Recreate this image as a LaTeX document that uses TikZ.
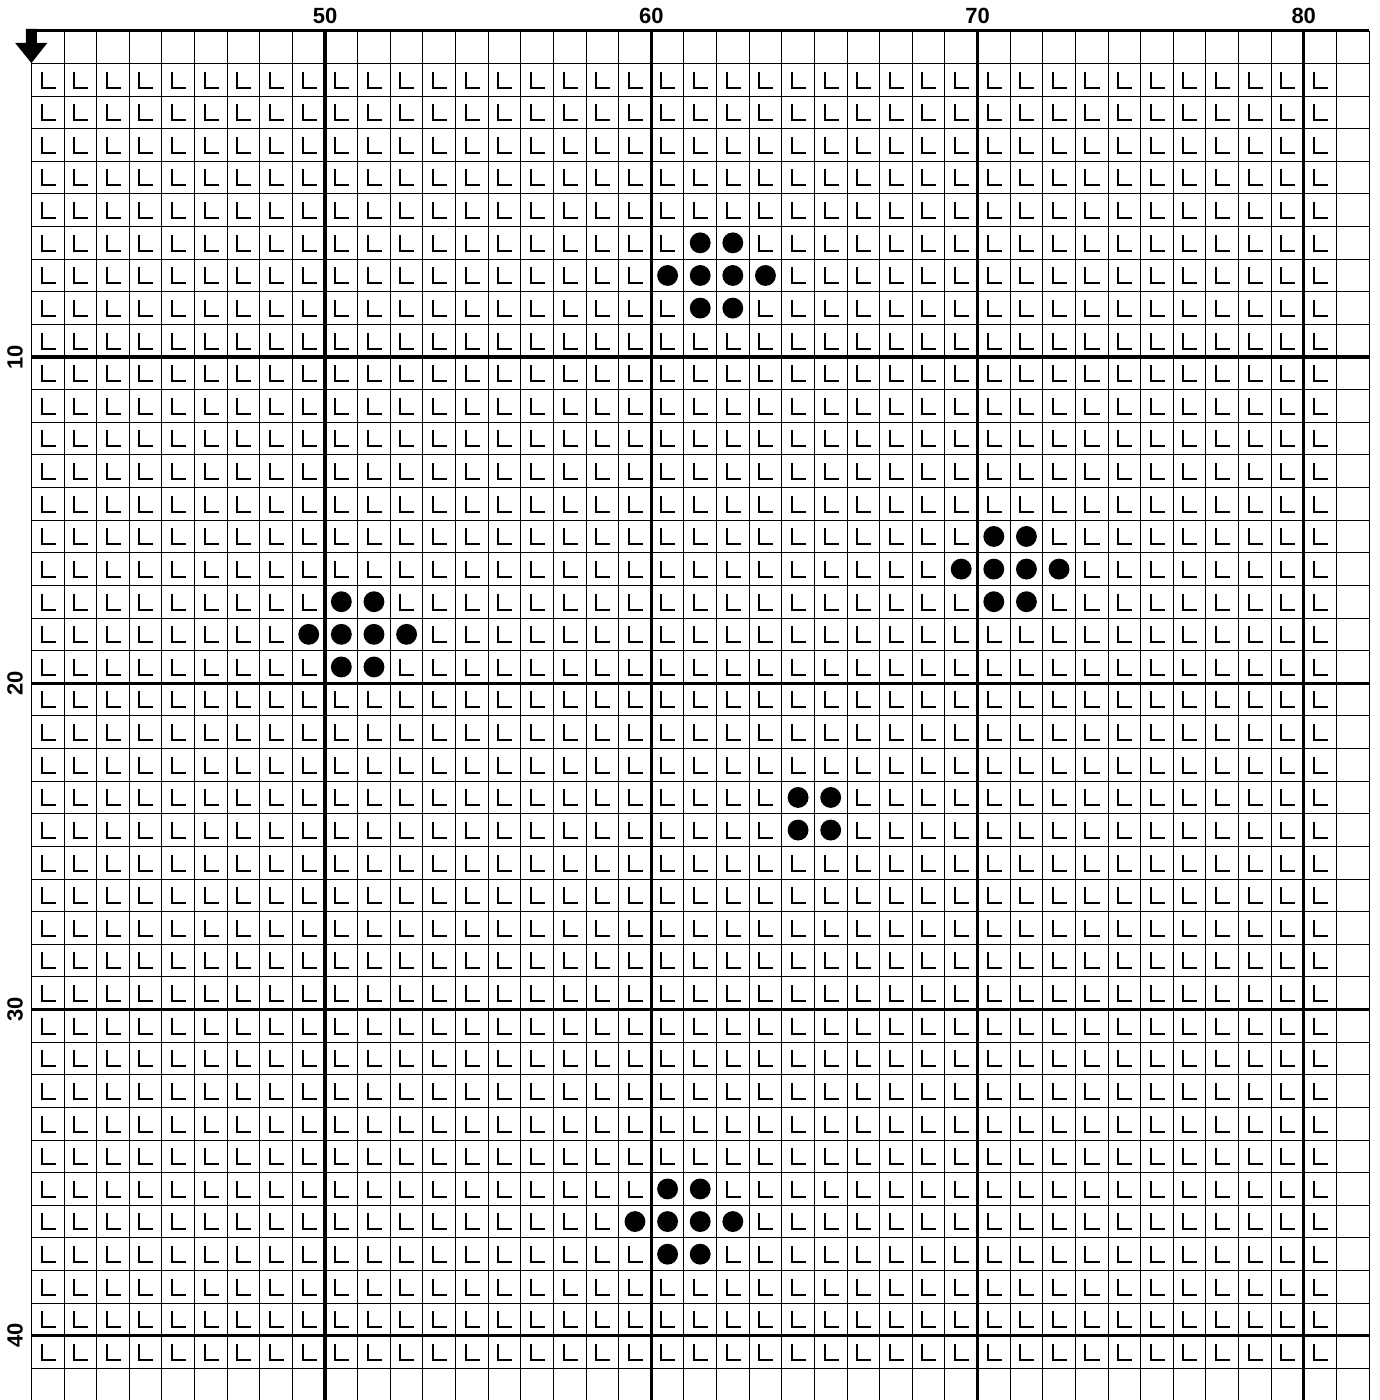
\documentclass[tikz,border=0pt]{standalone}
\usepackage{fontspec}
\setmainfont{Liberation Sans}
\usepackage{tikz}

\def\beadcells{20/6,21/6,19/7,20/7,21/7,22/7,20/8,21/8,%
29/15,30/15,28/16,29/16,30/16,31/16,29/17,30/17,%
9/17,10/17,8/18,9/18,10/18,11/18,9/19,10/19,%
23/23,24/23,23/24,24/24,%
19/35,20/35,18/36,19/36,20/36,21/36,19/37,20/37}

\begin{document}
\begin{tikzpicture}[x=0.6cm, y=-0.6cm,
  minor/.style={line width=0.5pt},
  major/.style={line width=1.7pt},
  stitch/.style={line width=1.05pt},
  lab/.style={font=\bfseries\fontsize{11.5}{13}\selectfont, inner sep=0pt},
  ]
  \useasboundingbox (-0.963,-0.944) rectangle (41.31,41.97);
  \foreach \c/\r in \beadcells {\expandafter\gdef\csname bead@\c @\r\endcsname{}}
  % grid
  \foreach \c in {0,...,41} \draw[minor] (\c,0) -- (\c,41.97);
  \foreach \r in {1,...,41} \draw[minor] (0,\r) -- (41,\r);
  \foreach \c in {9,19,29,39} \draw[major] (\c,0) -- (\c,41.97);
  \foreach \r in {0,10,20,30,40} \draw[major] (0,\r) -- (41,\r);
  % stitches
  \foreach \c in {0,...,39}
    \foreach \r in {1,...,40}
      {\ifcsname bead@\c @\r\endcsname\else
         \draw[stitch] (\c+0.31,\r+0.25) -- ++(0,0.49) -- ++(0.43,0);
       \fi}
  \foreach \c/\r in \beadcells \fill (\c+0.5,\r+0.5) circle (0.32);
  % start arrow
  \fill (-0.17,-0.055) -- (0.17,-0.055) -- (0.17,0.37) -- (0.49,0.37)
        -- (0,0.99) -- (-0.5,0.37) -- (-0.17,0.37) -- cycle;
  % labels
  \foreach \n [count=\i] in {50,60,70,80}
    \node[lab] (col\n) at (\i*10-1,-0.45) {\n};
  \foreach \n in {10,20,30,40}
    \node[lab, rotate=90] (row\n) at (-0.5,\n) {\n};
\end{tikzpicture}
\end{document}
